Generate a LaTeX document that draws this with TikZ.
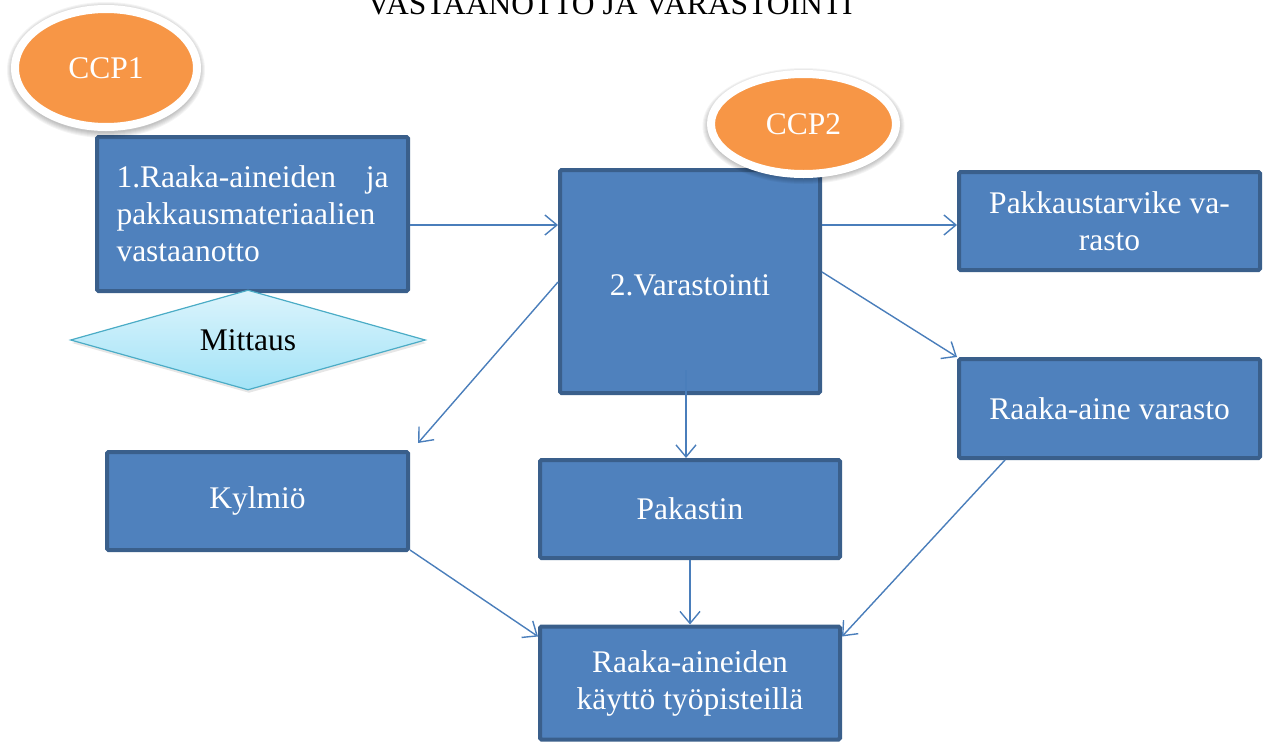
\documentclass[tikz,border=0pt]{standalone}
\usepackage{fontspec}
\setmainfont{Liberation Serif}
\usetikzlibrary{shapes.geometric,arrows.meta,calc,shadows}
\definecolor{boxfill}{HTML}{4F81BD}
\definecolor{boxline}{HTML}{3A5F8B}
\definecolor{arr}{HTML}{4A7EBB}
\definecolor{ccp}{HTML}{F79646}
\definecolor{dtop}{HTML}{DCF4FC}
\definecolor{dbot}{HTML}{A2E3F7}
\definecolor{dline}{HTML}{4BACC6}
\newcommand{\bigtext}{\fontsize{31.5}{37}\selectfont}
\tikzset{
  box/.style={draw=boxline, line width=4pt, fill=boxfill, rounded corners=1.5pt,
    text=white, font=\bigtext, align=center, inner sep=0pt},
  ccpnode/.style={ellipse, fill=ccp, draw=white, line width=8pt, text=white,
    font=\bigtext, inner sep=0pt},
  glow/.style={fill=black, opacity=0.045},
  link/.style={draw=arr, line width=1.4pt,
    -{Straight Barb[length=12pt,width=20pt,line width=1.4pt]}},
}
\begin{document}
\begin{tikzpicture}[x=1pt,y=-1pt]
\useasboundingbox (0,0) rectangle (1265,742);
\node[anchor=base, font=\bigtext] (title) at (610,14) {VASTAANOTTO JA VARASTOINTI};

% boxes
\node[box, minimum width=311pt, minimum height=154pt, align=left, text width=272pt] (b1) at (252.5,214)
  {1.Raaka-aineiden\hfill ja\\pakkausmateriaalien\\vastaanotto};
\node[box, minimum width=260pt, minimum height=223pt] (b2) at (690,281.5) {};
\node[font=\bigtext, text=white] (b2t) at (690,285) {2.Varastointi};
\node[box, minimum width=301pt, minimum height=98pt] (pk) at (1109.5,221) {Pakkaustarvike va-\\rasto};
\node[box, minimum width=301pt, minimum height=99pt] (ra) at (1109.5,408.5) {Raaka-aine varasto};
\node[box, minimum width=301pt, minimum height=98pt] (ky) at (257.5,501) {Kylmiö};
\node[box, minimum width=300pt, minimum height=98pt] (pa) at (690,509) {Pakastin};
\node[box, minimum width=300pt, minimum height=113pt] (bt) at (690,683) {Raaka-aineiden\\käyttö työpisteillä};

% diamond
\node[diamond, minimum width=355pt, minimum height=100pt, inner sep=0pt, aspect=3.5,
  draw=dline, line width=1.2pt, top color=dtop, bottom color=dbot, font=\bigtext, text=black,
  drop shadow={opacity=0.2, shadow xshift=1pt, shadow yshift=-3pt}] (mit) at (248,340) {Mittaus};

% CCP glow (soft shadow around the white rings)
\foreach \k in {0,...,5} {
  \fill[glow] (106,70) ellipse [x radius=94+\k, y radius=63+\k];
  \fill[glow] (803.5,126) ellipse [x radius=96+\k, y radius=53+\k];
}
% CCP ellipses
\node[ccpnode, minimum width=182pt, minimum height=118pt] (ccp1) at (106,68) {CCP1};
\node[ccpnode, minimum width=185pt, minimum height=100pt] (ccp2) at (803.5,124) {CCP2};

% connectors
\coordinate (kyin) at (418,443);
\coordinate (b2low) at (686,370);
\draw[link] ($(b1.east)+(0,11)$) -- ($(b2.west)+(0,-56.5)$);
\draw[link] ($(b2.east)+(0,-56.5)$) -- ($(pk.west)+(0,4)$);
\draw[link] ($(b2.east)+(0,-9.5)$) -- (ra.north west);
\draw[link] ($(b2.west)+(0,0.5)$) -- (kyin);
\draw[link] (b2low) -- ($(pa.north)+(-4,0)$);
\draw[link] (pa.south) -- (bt.north);
\draw[link] ($(ky.south east)+(0,-2)$) -- ($(bt.north west)+(0,12)$);
\draw[link] ($(ra.south west)+(48,0)$) -- ($(bt.north east)+(0,12)$);
\end{tikzpicture}
\end{document}
